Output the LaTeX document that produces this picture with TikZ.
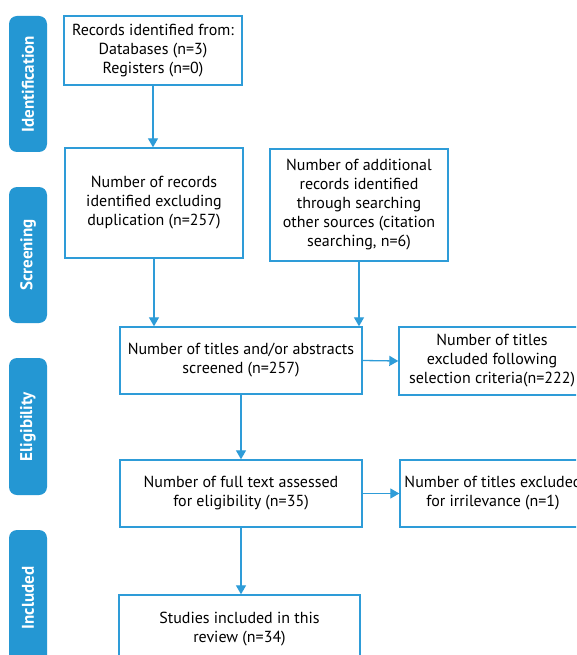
\documentclass[tikz,border=0pt]{standalone}
\usepackage{fontspec}
\setmainfont{PT Sans}
\usetikzlibrary{arrows.meta}
\definecolor{barblue}{HTML}{2497D3}
\definecolor{lineblue}{HTML}{2E9CD8}
\tikzset{
  box/.style={draw=lineblue, line width=1.4pt, fill=white, align=center, font=\fontsize{16}{19}\selectfont, inner sep=0pt},
  bar/.style={fill=barblue, rounded corners=8pt, draw=none},
  barlabel/.style={text=white, font=\fontsize{17}{20}\selectfont\bfseries, rotate=90},
  arr/.style={draw=lineblue, line width=1.3pt, -{Triangle[width=10pt,length=9pt]}}
}
\begin{document}
\begin{tikzpicture}[x=1pt,y=-1pt]
\clip (0,0) rectangle (576,655);
\fill[white] (0,0) rectangle (576,655);
% side bars
\fill[bar] (9,16) rectangle (47,152);
\node[barlabel] (lid) at (28,84) {Identification};
\fill[bar] (9,187) rectangle (47,323);
\node[barlabel] (lsc) at (28,255) {Screening};
\fill[bar] (9,358) rectangle (47,495);
\node[barlabel] (lel) at (28,426.5) {Eligibility};
\fill[bar] (9,530) rectangle (47,680);
\node[barlabel] (lin) at (28,598) {Included};
% boxes
\node[box, minimum width=178pt, minimum height=69pt] (rec) at (153,50.5) {Records identified from:\\Databases (n=3)\\Registers (n=0)};
\node[box, minimum width=178pt, minimum height=110pt] (dup) at (154,203) {Number of records\\identified excluding\\duplication (n=257)};
\node[box, minimum width=178pt, minimum height=112pt] (add) at (359,205) {Number of additional\\records identified\\through searching\\other sources (citation\\searching, n=6)};
\node[box, minimum width=242pt, minimum height=67pt] (scr) at (241,360.5) {Number of titles and/or abstracts\\screened (n=257)};
\node[box, minimum width=186pt, minimum height=68pt] (ex1) at (492,361) {Number of titles\\excluded following\\selection criteria(n=222)};
\node[box, minimum width=242pt, minimum height=67pt] (ful) at (241,493.5) {Number of full text assessed\\for eligibility (n=35)};
\node[box, minimum width=186pt, minimum height=67pt] (ex2) at (493,493.5) {Number of titles excluded\\for irrilevance (n=1)};
\node[box, minimum width=241pt, minimum height=90pt] (inc) at (239.5,640) {Studies included in this\\review (n=34)\\[6pt]};
% arrows
\draw[arr] (rec.south) -- (rec.south |- dup.north);
\draw[arr] (dup.south) -- (dup.south |- scr.north);
\draw[arr] (add.south) -- (add.south |- scr.north);
\draw[arr] (scr.east) -- (ex1.west);
\draw[arr] (scr.south) -- (ful.north);
\draw[arr] (ful.east) -- (ex2.west);
\draw[arr] (ful.south) -- (ful.south |- inc.north);
\end{tikzpicture}
\end{document}
